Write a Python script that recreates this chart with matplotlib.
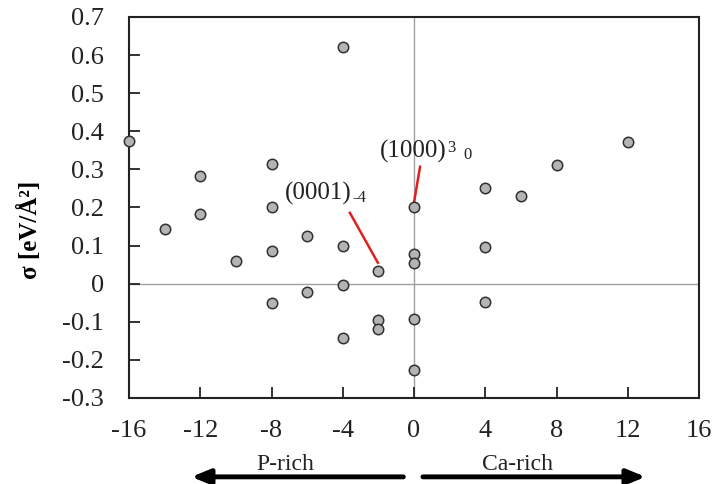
import numpy as np
import matplotlib.pyplot as plt

# Datos: exceso de Ca (x) frente a energía superficial sigma (y)
delta_ca = [-16, -14, -12, -12, -10, -8, -8, -8, -8, -6, -6, -4, -4, -4, -4,
            -2, -2, -2, 0, 0, 0, 0, 0, 4, 4, 4, 6, 8, 12]
sigma = [0.375, 0.144, 0.282, 0.184, 0.060, 0.315, 0.200, 0.087, -0.051,
         0.126, -0.021, 0.621, 0.100, -0.003, -0.143,
         0.034, -0.094, -0.118, 0.200, 0.079, 0.054, -0.092, -0.227,
         0.250, 0.096, -0.048, 0.231, 0.311, 0.373]

x_ticks = [-16, -12, -8, -4, 0, 4, 8, 12, 16]
y_ticks = [-0.3, -0.2, -0.1, 0, 0.1, 0.2, 0.3, 0.4, 0.5, 0.6, 0.7]

plt.rcParams['font.family'] = ['Liberation Serif', 'DejaVu Serif']

fig = plt.figure(figsize=(7.14, 4.84), dpi=100)
ax = fig.add_axes([0.1807, 0.1777, 0.7983, 0.7872])

ax.axhline(0, color='#a0a0a0', linewidth=1.0, zorder=1)
ax.axvline(0, color='#a0a0a0', linewidth=1.0, zorder=1)

ax.plot(delta_ca, sigma, 'o', markersize=7.5, markerfacecolor='#b4b4b4',
        markeredgecolor='#303030', markeredgewidth=1.1, clip_on=False, zorder=3)

ax.set_xlim(-16, 16)
ax.set_ylim(-0.3, 0.7)
ax.set_xticks(x_ticks)
ax.set_yticks(y_ticks)
ax.set_xticklabels([str(t) for t in x_ticks])
ax.set_yticklabels(['0' if t == 0 else f'{t:.1f}' for t in y_ticks])
ax.tick_params(direction='in', length=8, width=1.3, labelsize=19,
               colors='#222222')
ax.tick_params(axis='y', pad=18)
ax.tick_params(axis='x', pad=16)
for s in ax.spines.values():
    s.set_linewidth(1.5)
    s.set_color('#222222')

ax.set_ylabel('σ [eV/Å²]', fontsize=18, fontweight='bold')
ax.yaxis.set_label_coords(-0.153, 0.441)

# Etiquetas de superficies con líneas rojas
ax.plot([-3.6, -2.03], [0.186, 0.055], color='#e02020', linewidth=1.8, zorder=2)
ax.text(-7.24, 0.221, '(0001)', fontsize=18, color='#222222', va='baseline')
ax.text(-3.48, 0.215, '-4', fontsize=12, color='#222222', va='baseline')

ax.plot([0.34, 0.0], [0.307, 0.213], color='#e02020', linewidth=1.8, zorder=2)
ax.text(-1.91, 0.331, '(1000)', fontsize=18, color='#222222', va='baseline')
ax.text(1.85, 0.345, '3', fontsize=12, color='#222222', va='baseline')
ax.text(2.75, 0.328, '0', fontsize=12, color='#222222', va='baseline')

# Flechas de P-rich / Ca-rich bajo el eje
trans = ax.get_xaxis_transform()
ax.annotate('', xy=(-12.5, -0.207), xytext=(-0.6, -0.207), xycoords=trans,
            textcoords=trans, annotation_clip=False,
            arrowprops=dict(arrowstyle='-|>,head_length=1.1,head_width=0.45',
                            color='black', linewidth=3.5, shrinkA=0, shrinkB=0))
ax.annotate('', xy=(13.0, -0.207), xytext=(0.5, -0.207), xycoords=trans,
            textcoords=trans, annotation_clip=False,
            arrowprops=dict(arrowstyle='-|>,head_length=1.1,head_width=0.45',
                            color='black', linewidth=3.5, shrinkA=0, shrinkB=0))
ax.text(-7.2, -0.175, 'P-rich', transform=trans, ha='center', va='center',
        fontsize=17, color='#222222')
ax.text(5.8, -0.175, 'Ca-rich', transform=trans, ha='center', va='center',
        fontsize=17, color='#222222')

fig.savefig('out.png', dpi=100)
